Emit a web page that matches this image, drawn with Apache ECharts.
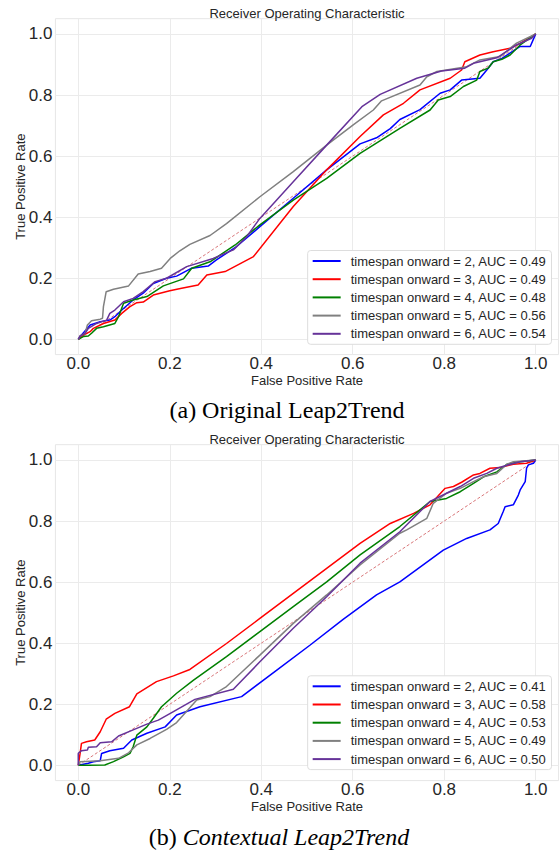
<!DOCTYPE html>
<html><head><meta charset="utf-8">
<script src="https://cdn.jsdelivr.net/npm/echarts@6/dist/echarts.min.js"></script>
<style>html,body{margin:0;padding:0;background:#fff}#c{width:559px;height:854px}</style>
</head><body><div id="c"></div>
<script>
// ---- tick values ----
const tickValues = [0, 0.2, 0.4, 0.6, 0.8, 1.0];

// ---- legend labels ----
const topNames = [
  'timespan onward = 2, AUC = 0.49',
  'timespan onward = 3, AUC = 0.49',
  'timespan onward = 4, AUC = 0.48',
  'timespan onward = 5, AUC = 0.56',
  'timespan onward = 6, AUC = 0.54'
];
const botNames = [
  'timespan onward = 2, AUC = 0.41',
  'timespan onward = 3, AUC = 0.58',
  'timespan onward = 4, AUC = 0.53',
  'timespan onward = 5, AUC = 0.49',
  'timespan onward = 6, AUC = 0.50'
];

// ---- (a) Original Leap2Trend: [FPR, TPR] ----
const top2 = [[0,0],[.007,.014],[.020,.036],[.026,.047],[.048,.058],[.069,.063],[.080,.074],[.095,.096],[.120,.129],[.142,.151],[.164,.183],[.193,.200],[.215,.207],[.248,.233],[.284,.240],[.302,.260],[.346,.304],[.397,.369],[.470,.462],[.543,.555],[.616,.640],[.652,.660],[.682,.690],[.703,.720],[.747,.752],[.791,.806],[.813,.817],[.838,.849],[.878,.855],[.893,.882],[.907,.909],[.926,.920],[.966,.959],[.988,.959],[.995,.983],[1,1]];
const top3 = [[0,0],[.011,.014],[.026,.025],[.033,.036],[.055,.052],[.080,.063],[.095,.085],[.113,.107],[.128,.120],[.142,.122],[.164,.145],[.200,.159],[.226,.167],[.262,.178],[.281,.211],[.321,.222],[.383,.271],[.470,.435],[.543,.555],[.616,.664],[.667,.735],[.711,.773],[.747,.817],[.813,.855],[.838,.882],[.845,.909],[.878,.931],[.907,.942],[.944,.953],[.966,.969],[1,1]];
const top4 = [[0,0],[.011,.009],[.022,.011],[.029,.020],[.040,.036],[.055,.041],[.080,.052],[.088,.074],[.099,.118],[.120,.129],[.150,.140],[.186,.175],[.230,.198],[.248,.233],[.288,.254],[.343,.309],[.397,.375],[.470,.456],[.543,.527],[.616,.609],[.703,.691],[.769,.751],[.787,.784],[.813,.795],[.842,.828],[.871,.849],[.878,.877],[.896,.888],[.907,.909],[.926,.917],[.944,.931],[.966,.964],[1,1]];
const top5 = [[0,0],[.004,.011],[.015,.020],[.020,.047],[.029,.061],[.048,.066],[.053,.069],[.055,.107],[.061,.156],[.077,.164],[.110,.175],[.131,.214],[.157,.222],[.182,.233],[.201,.265],[.222,.290],[.244,.311],[.288,.340],[.324,.379],[.397,.467],[.470,.549],[.543,.636],[.601,.702],[.645,.751],[.663,.781],[.747,.833],[.762,.860],[.784,.877],[.849,.893],[.878,.915],[.922,.926],[.958,.970],[1,1]];
const top6 = [[0,0],[.004,.011],[.015,.020],[.022,.036],[.040,.052],[.062,.063],[.069,.085],[.080,.096],[.099,.123],[.120,.134],[.142,.156],[.168,.189],[.193,.200],[.237,.238],[.295,.265],[.339,.293],[.368,.336],[.397,.396],[.470,.516],[.543,.636],[.620,.762],[.660,.802],[.740,.855],[.794,.879],[.845,.888],[.864,.904],[.915,.922],[.958,.964],[.991,.986],[1,1]];

// ---- (b) Contextual Leap2Trend: [FPR, TPR] ----
const bot2 = [[0,0],[.022,.007],[.033,.012],[.048,.015],[.051,.039],[.069,.048],[.099,.056],[.117,.083],[.150,.105],[.190,.126],[.215,.165],[.266,.192],[.357,.225],[.434,.312],[.507,.394],[.579,.478],[.652,.558],[.703,.601],[.798,.705],[.849,.743],[.900,.771],[.918,.792],[.929,.831],[.933,.847],[.951,.853],[.962,.885],[.966,.902],[.977,.929],[.980,.973],[.984,.984],[.995,.989],[1,1]];
const bot3 = [[0,0],[.004,.039],[.007,.072],[.018,.077],[.036,.083],[.048,.110],[.061,.151],[.080,.170],[.112,.192],[.128,.234],[.171,.274],[.208,.293],[.244,.314],[.324,.399],[.397,.481],[.470,.563],[.543,.645],[.616,.727],[.682,.792],[.733,.825],[.769,.853],[.802,.907],[.820,.913],[.838,.927],[.864,.951],[.878,.956],[.900,.973],[.922,.975],[.951,.986],[.980,.989],[1,1]];
const bot4 = [[0,0],[.022,0],[.058,.001],[.077,.012],[.099,.028],[.113,.039],[.120,.061],[.128,.099],[.150,.126],[.164,.154],[.182,.192],[.215,.236],[.252,.279],[.324,.356],[.397,.438],[.470,.520],[.543,.601],[.616,.689],[.703,.782],[.769,.864],[.805,.874],[.835,.896],[.864,.923],[.886,.945],[.915,.961],[.937,.986],[.966,.994],[1,1]];
const bot5 = [[0,0],[.004,.012],[.048,.015],[.088,.023],[.110,.041],[.128,.067],[.157,.088],[.193,.118],[.215,.140],[.259,.214],[.288,.225],[.324,.258],[.397,.361],[.470,.465],[.543,.558],[.616,.656],[.703,.760],[.718,.771],[.762,.809],[.776,.858],[.805,.891],[.835,.907],[.864,.929],[.886,.945],[.915,.956],[.937,.986],[.951,.994],[1,1]];
const bot6 = [[0,0],[0,.039],[.007,.048],[.020,.050],[.022,.059],[.040,.061],[.048,.074],[.073,.077],[.088,.096],[.120,.116],[.150,.135],[.175,.148],[.208,.176],[.255,.216],[.339,.249],[.397,.339],[.470,.449],[.543,.552],[.616,.662],[.703,.765],[.769,.864],[.805,.891],[.835,.913],[.864,.940],[.893,.956],[.915,.973],[.937,.983],[.966,.994],[1,1]];

// ---- chance diagonal ----
const diagonal = [[0,0],[1,1]];

const colors = ['#0000ff', '#ff0000', '#008000', '#808080', '#663399'];
const FONT = '"Liberation Sans", Arial, sans-serif';
const TXT = '#262626';

const topData = [top2, top3, top4, top5, top6];
const botData = [bot2, bot3, bot4, bot5, bot6];

function makeAxisX(gi) {
  return {
    type: 'value', gridIndex: gi, min: -0.05, max: 1.05,
    axisLine: { show: false },
    axisTick: { show: false, customValues: tickValues },
    axisLabel: { customValues: tickValues, fontSize: 17, color: TXT, fontFamily: FONT, margin: 0,
      formatter: v => v.toFixed(1) },
    splitLine: { show: true, lineStyle: { color: '#ebebeb', width: 1 } },
    name: 'False Positive Rate', nameLocation: 'middle', nameGap: 19, nameMoveOverlap: false,
    nameTextStyle: { fontSize: 13, color: TXT, fontFamily: FONT }
  };
}
function makeAxisY(gi) {
  return {
    type: 'value', gridIndex: gi, min: -0.05, max: 1.05,
    axisLine: { show: false },
    axisTick: { show: false, customValues: tickValues },
    axisLabel: { customValues: tickValues, fontSize: 17, color: TXT, fontFamily: FONT, margin: 3,
      formatter: v => v.toFixed(1) },
    splitLine: { show: true, lineStyle: { color: '#ebebeb', width: 1 } },
    name: 'True Positive Rate', nameLocation: 'middle', nameGap: 28, nameMoveOverlap: false,
    nameTextStyle: { fontSize: 13, color: TXT, fontFamily: FONT }
  };
}
function makeLegend(names, top) {
  return {
    data: names, orient: 'vertical', right: 7.5, top: top,
    backgroundColor: '#ffffff', borderColor: '#dddddd', borderWidth: 1, borderRadius: 3,
    padding: [4, 5, 4, 4], itemWidth: 28, itemHeight: 14, itemGap: 5.2,
    itemStyle: { opacity: 0 },
    textStyle: { fontSize: 13, color: TXT, fontFamily: FONT, padding: [0, 0, 0, 5] },
    selectedMode: false
  };
}

const series = [];
[topData, botData].forEach((set, gi) => {
  const names = gi === 0 ? topNames : botNames;
  series.push({
    type: 'line', xAxisIndex: gi, yAxisIndex: gi, data: diagonal, name: 'chance' + gi,
    symbol: 'none', silent: true, lineStyle: { color: '#d9777a', width: 1, type: [3, 2] }, z: 1
  });
  set.forEach((d, i) => {
    series.push({
      type: 'line', xAxisIndex: gi, yAxisIndex: gi, data: d, name: names[i],
      symbol: 'none', showSymbol: false,
      lineStyle: { color: colors[i], width: 1.5 }, itemStyle: { color: colors[i] }, z: 2 + i
    });
  });
});

const chart = echarts.init(document.getElementById('c'), null, { renderer: 'svg' });
chart.setOption({
  animation: false,
  backgroundColor: '#ffffff',
  grid: [
    { left: 55.4, top: 18.7, width: 503.2, height: 335.9, show: true, borderColor: '#e6e6e6', borderWidth: 1, containLabel: false },
    { left: 55.4, top: 444.7, width: 503.2, height: 335.9, show: true, borderColor: '#e6e6e6', borderWidth: 1, containLabel: false }
  ],
  xAxis: [makeAxisX(0), makeAxisX(1)],
  yAxis: [makeAxisY(0), makeAxisY(1)],
  legend: [makeLegend(topNames, 250.5), makeLegend(botNames, 675.8)],
  series: series,
  graphic: [
    { type: 'text', x: 307, y: 13, style: { text: 'Receiver Operating Characteristic', font: '13px ' + FONT, fill: TXT, align: 'center', verticalAlign: 'middle', textAlign: 'center', textVerticalAlign: 'middle' } },
    { type: 'text', x: 307, y: 439, style: { text: 'Receiver Operating Characteristic', font: '13px ' + FONT, fill: TXT, align: 'center', verticalAlign: 'middle', textAlign: 'center', textVerticalAlign: 'middle' } },
    { type: 'text', x: 287, y: 410, style: { text: '(a) Original Leap2Trend', font: '24px "Liberation Serif", "Times New Roman", serif', fill: '#000', align: 'center', verticalAlign: 'middle', textAlign: 'center', textVerticalAlign: 'middle' } },
    { type: 'text', x: 279, y: 837, style: {
        text: '{n|(b) }{i|Contextual Leap2Trend}',
        rich: {
          n: { fontSize: 24, fontFamily: '"Liberation Serif", "Times New Roman", serif', color: '#000' },
          i: { fontSize: 24, fontFamily: '"Liberation Serif", "Times New Roman", serif', fontStyle: 'italic', color: '#000' }
        },
        align: 'center', verticalAlign: 'middle', textAlign: 'center', textVerticalAlign: 'middle' } }
  ]
});
</script>
</body></html>
